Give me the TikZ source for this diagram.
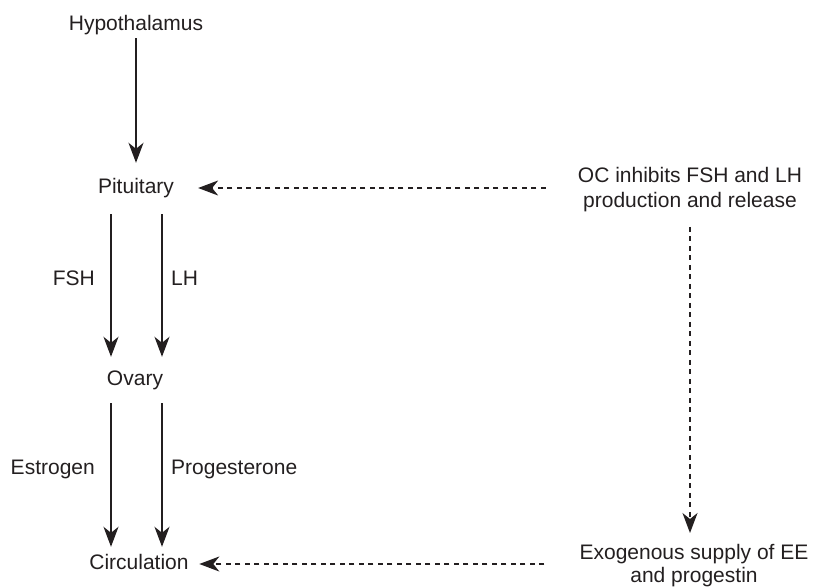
\documentclass[tikz,border=0pt]{standalone}
\usepackage{fontspec}
\setmainfont{Liberation Sans}
\usetikzlibrary{arrows.meta}
\definecolor{ink}{RGB}{35,31,32}
\begin{document}
\begin{tikzpicture}[x=1pt,y=-1pt,
  every node/.style={inner sep=0pt, text=ink, font=\fontsize{21}{25}\selectfont},
  organ/.style={text height=15.5pt, text depth=4.5pt},
  hormone/.style={text height=15.5pt, text depth=4.5pt},
  note/.style={align=center},
  tip/.style={-{Stealth[length=20pt,width=15pt,inset=6pt]}},
  flow/.style={draw=ink, line width=1.8pt, tip},
  effect/.style={draw=ink, line width=1.5pt, dash pattern=on 5pt off 4.5pt, tip}]
\useasboundingbox (0,0) rectangle (820,587);

% axis of the hormonal cascade
\node[organ] (hyp) at (136,24.5) {Hypothalamus};
\node[organ] (pit) at (136,188) {Pituitary};
\node[organ] (ova) at (135,379.5) {Ovary};
\node[organ] (cir) at (139,564) {Circulation};

% effects of the oral contraceptive
\node[note, anchor=north] (oc) at (690,167) {OC inhibits FSH and LH\\production and release};
\node[note, anchor=north, font=\fontsize{21}{23}\selectfont] (exo) at (694,544)
  {Exogenous supply of EE\\and progestin};

% hormone labels
\node[hormone, anchor=east] (fsh) at (95,279.5) {FSH};
\node[hormone, anchor=west] (lh) at (171,279.5) {LH};
\node[hormone, anchor=east] (est) at (95,468.5) {Estrogen};
\node[hormone, anchor=west] (pro) at (171,468.5) {Progesterone};

% solid arrows
\draw[flow, shorten <=3.5pt, shorten >=15pt] (hyp) -- (pit);
\draw[flow, shorten <=16pt, shorten >=12.5pt]
  ([xshift=-25pt]pit.south) -- ([xshift=-25pt]pit.south |- ova.north);
\draw[flow, shorten <=16pt, shorten >=12.5pt]
  ([xshift=26pt]pit.south) -- ([xshift=26pt]pit.south |- ova.north);
\draw[flow, shorten <=13.5pt, shorten >=7pt]
  ([xshift=-24pt]ova.south) -- ([xshift=-24pt]ova.south |- cir.north);
\draw[flow, shorten <=13.5pt, shorten >=7pt]
  ([xshift=27pt]ova.south) -- ([xshift=27pt]ova.south |- cir.north);

% dashed arrows
\draw[effect, shorten <=32pt, shorten >=24pt] (pit.east -| oc.west) -- (pit.east);
\draw[effect, shorten <=15pt, shorten >=11pt] (oc.south) -- (oc.south |- exo.north);
\draw[effect, shorten <=35pt, shorten >=10.5pt] (cir.east -| exo.west) -- (cir.east);
\end{tikzpicture}
\end{document}
